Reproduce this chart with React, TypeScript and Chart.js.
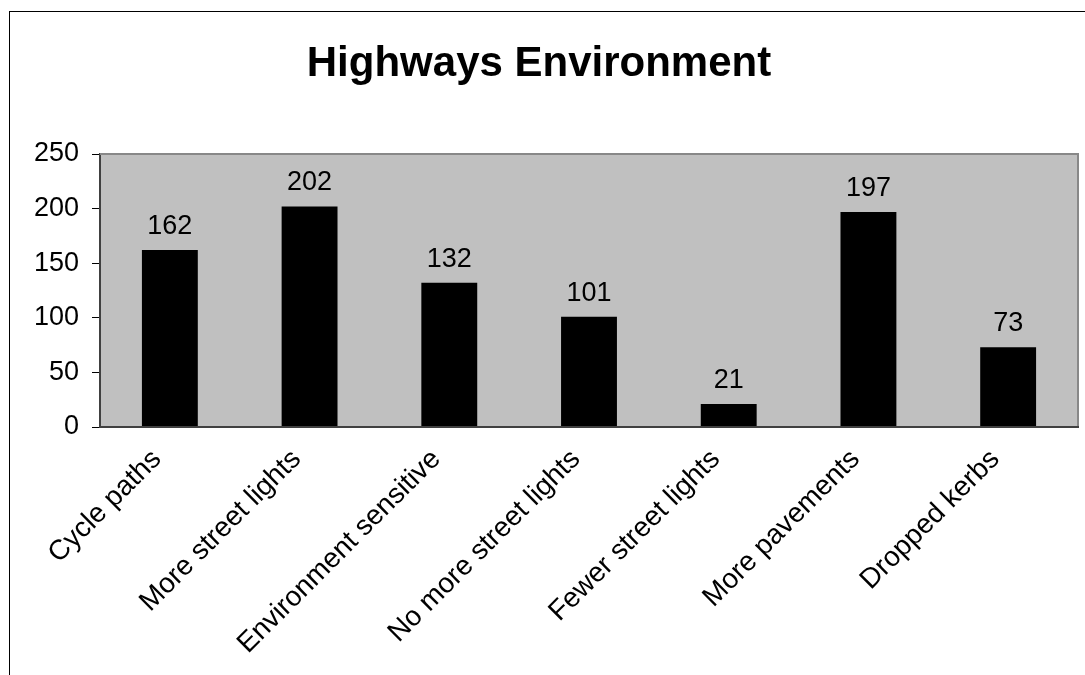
import React, { useEffect, useRef } from "react";
import { Chart, registerables } from "chart.js";

Chart.register(...registerables);

const categories = [
  "Cycle paths",
  "More street lights",
  "Environment sensitive",
  "No more street lights",
  "Fewer street lights",
  "More pavements",
  "Dropped kerbs",
];
const values = [162, 202, 132, 101, 21, 197, 73];
const yTicks = [0, 50, 100, 150, 200, 250];
const titleText = "Highways Environment";

const FONT = "'Liberation Sans', Arial, Helvetica, sans-serif";

const framePlugin = {
  id: "framePlugin",
  beforeDraw(chart: any) {
    const { ctx, chartArea } = chart;
    ctx.save();
    ctx.strokeStyle = "#000";
    ctx.lineWidth = 1;
    ctx.strokeRect(9.5, 11.5, 3000, 3000);
    ctx.fillStyle = "#c0c0c0";
    ctx.fillRect(chartArea.left, chartArea.top, chartArea.right - chartArea.left, chartArea.bottom - chartArea.top);
    ctx.restore();
  },
  afterDatasetsDraw(chart: any) {
    const { ctx, chartArea } = chart;
    ctx.save();
    ctx.strokeStyle = "#888";
    ctx.lineWidth = 2;
    ctx.beginPath();
    ctx.moveTo(chartArea.left, chartArea.top);
    ctx.lineTo(chartArea.right, chartArea.top);
    ctx.lineTo(chartArea.right, chartArea.bottom);
    ctx.stroke();
    ctx.strokeStyle = "#404040";
    ctx.beginPath();
    ctx.moveTo(chartArea.left, chartArea.bottom);
    ctx.lineTo(chartArea.right + 1, chartArea.bottom);
    ctx.stroke();
    const meta = chart.getDatasetMeta(0);
    ctx.fillStyle = "#000";
    ctx.font = `27px ${FONT}`;
    ctx.textAlign = "center";
    ctx.textBaseline = "alphabetic";
    meta.data.forEach((bar: any, i: number) => {
      ctx.fillText(String(values[i]), bar.x, bar.y - 16);
    });
    ctx.restore();
  },
};

export default function App() {
  const ref = useRef<HTMLCanvasElement>(null);
  useEffect(() => {
    if (!ref.current) return;
    const chart = new Chart(ref.current, {
      type: "bar",
      data: {
        labels: categories,
        datasets: [
          {
            data: values,
            backgroundColor: "#000",
            borderWidth: 0,
            barPercentage: 0.4,
            categoryPercentage: 1,
          },
        ],
      },
      options: {
        animation: false,
        responsive: false,
        layout: { padding: { left: 0, right: 7, top: 0, bottom: 0 } },
        plugins: {
          legend: { display: false },
          tooltip: { enabled: false },
          title: {
            display: true,
            text: titleText,
            color: "#000",
            font: { family: FONT, size: 42, weight: "bold" },
            padding: { top: 39, bottom: 64.6 },
          },
        },
        scales: {
          x: {
            grid: { display: false, drawTicks: false },
            border: { display: false },
            ticks: {
              color: "#000",
              font: { family: FONT, size: 28 },
              minRotation: 45,
              maxRotation: 45,
              padding: 16,
              labelOffset: -13,
              autoSkip: false,
            },
            afterFit(scale: any) {
              scale.height = 248;
            },
          },
          y: {
            min: 0,
            max: 250,
            afterBuildTicks(scale: any) {
              scale.ticks = yTicks.map((v) => ({ value: v }));
            },
            grid: {
              drawOnChartArea: false,
              drawTicks: true,
              tickLength: 8,
              color: "#000",
            },
            border: { display: true, color: "#404040", width: 2 },
            ticks: {
              color: "#000",
              font: { family: FONT, size: 27 },
              padding: 13,
            },
            afterFit(scale: any) {
              scale.width = 100;
            },
          },
        },
      },
      plugins: [framePlugin],
    });
    return () => chart.destroy();
  }, []);
  return (
    <div style={{ position: "absolute", left: 0, top: 0, width: 1085, height: 675, background: "#fff" }}>
      <canvas ref={ref} width={1085} height={675} style={{ display: "block" }} />
    </div>
  );
}
